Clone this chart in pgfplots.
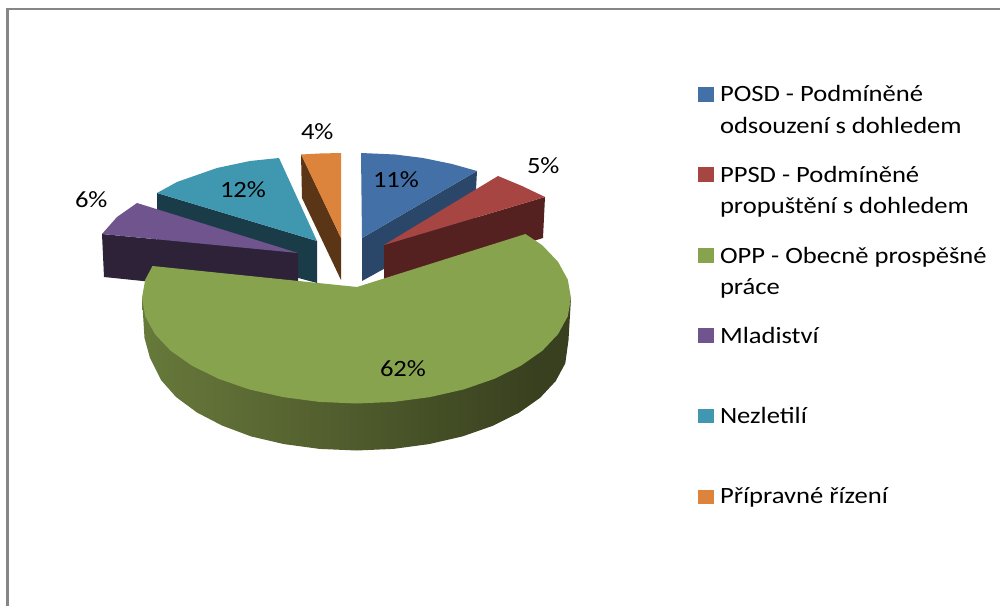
\documentclass[border=0pt]{standalone}
\usepackage{pgfplots}
\pgfplotsset{compat=1.18}
\usepackage{fontspec}
\setmainfont[FakeStretch=1.14]{Carlito}
\definecolor{cblue}{HTML}{4370A6}
\definecolor{cblued}{HTML}{2A4769}
\definecolor{cred}{HTML}{A74543}
\definecolor{credd}{HTML}{552120}
\definecolor{cgreen}{HTML}{88A34D}
\definecolor{cpurple}{HTML}{6F548E}
\definecolor{cpurpled}{HTML}{2D2238}
\definecolor{cteal}{HTML}{3F97B0}
\definecolor{cteald}{HTML}{1A3B48}
\definecolor{corange}{HTML}{DD843C}
\definecolor{corangd}{HTML}{5A3516}
\definecolor{cframe}{HTML}{868686}
\pgfdeclarehorizontalshading{greenside}{100bp}{rgb(0bp)=(0.49,0.58,0.28); rgb(35bp)=(0.37,0.43,0.21); rgb(71bp)=(0.22,0.25,0.12); rgb(100bp)=(0.22,0.25,0.12)}
\tikzset{lab/.style={font=\fontsize{17.5pt}{21pt}\selectfont, inner sep=0pt, outer sep=0pt, anchor=base west, text=black}}
\begin{document}
\begin{tikzpicture}
\begin{axis}[scale only axis, width=750pt, height=454.5pt,
  xmin=0, xmax=1000, ymin=0, ymax=606, y dir=reverse, axis lines=none]
% background and frame
\addplot[draw=none, fill=white] coordinates {(0,0) (1000,0) (1000,606) (0,606)} -- cycle;
\addplot[draw=none, fill=cframe] coordinates {(6,8) (1000,8) (1000,10) (6,10)} -- cycle;
\addplot[draw=none, fill=cframe] coordinates {(6,8) (9,8) (9,606) (6,606)} -- cycle;
% Nezletili 12%
\addplot[draw=none, fill=cteald] coordinates {(157,193) (317,241) (317,283) (157,240)} -- cycle;
\addplot[draw=none, fill=cteal] coordinates {(157,193) (177,182) (217,168) (250,161) (279,158) (317,241)} -- cycle;
% Pripravne rizeni 4%
\addplot[draw=none, fill=corangd] coordinates {(301,154) (341,238) (341,280) (302,198)} -- cycle;
\addplot[draw=none, fill=corange] coordinates {(301,154.5) (320,153.5) (341,153) (341,238)} -- cycle;
% POSD 11%
\addplot[draw=none, fill=cblued] coordinates {(362,238) (477,171) (476,190) (476,218) (362,281)} -- cycle;
\addplot[draw=none, fill=cblue] coordinates {(361,153) (395,154.5) (423,158) (452,164) (477,171) (362,238)} -- cycle;
% Mladistvi 6%
\addplot[draw=none, fill=cpurpled] coordinates {(102,234) (298,253) (298,297) (104,277)} -- cycle;
\addplot[draw=none, fill=cpurple] coordinates {(102,234) (117,217) (137,203) (298,253)} -- cycle;
% PPSD 5%
\addplot[draw=none, fill=credd] coordinates {(384,245) (545,197) (543,238) (384,288)} -- cycle;
\addplot[draw=none, fill=cred] coordinates {(384,245) (498,176) (522,186) (545,197)} -- cycle;
% OPP 62%
\addplot[draw=none, shading=greenside] coordinates {(142,298) (144.5,338) (150,358) (161,380) (176,397) (197,412.5) (222,425.5) (251,436.4) (284,444.1) (319.6,448.9) (356.5,450.5) (393.4,448.9) (429,444.1) (462.5,436.4) (492.8,425.8) (518.9,412.8) (540.1,397.8) (555.7,381.1) (565.3,363.3) (568.5,340) (571,298)} -- cycle;
\addplot[draw=none, fill=cgreen] coordinates {(357,287) (525.5,234) (542.3,245.3) (558.1,261.9) (567.8,279.7) (571,298) (567.8,316.3) (558.1,334.1) (542.3,350.8) (520.8,365.8) (494.4,378.8) (463.8,389.4) (429.9,397.1) (393.8,401.9) (356.5,403.5) (319.2,401.9) (283.1,397.1) (249.2,389.4) (218.6,378.8) (192.2,365.8) (170.7,350.8) (154.9,334.1) (145.2,316.3) (142,298) (145.2,279.7) (152.5,266)} -- cycle;
% data labels
\node[lab] at (axis cs:373,188) {11\%};
\node[lab] at (axis cs:527,173.5) {5\%};
\node[lab] at (axis cs:380,376) {62\%};
\node[lab] at (axis cs:75,208) {6\%};
\node[lab] at (axis cs:220,198) {12\%};
\node[lab] at (axis cs:301,140) {4\%};
% legend
\addplot[draw=none, fill=cblue] coordinates {(698,87) (714,87) (714,102) (698,102)} -- cycle;
\addplot[draw=none, fill=cred] coordinates {(698,167) (714,167) (714,182) (698,182)} -- cycle;
\addplot[draw=none, fill=cgreen] coordinates {(698,248) (714,248) (714,263) (698,263)} -- cycle;
\addplot[draw=none, fill=cpurple] coordinates {(698,328) (714,328) (714,343) (698,343)} -- cycle;
\addplot[draw=none, fill=cteal] coordinates {(698,409) (714,409) (714,423) (698,423)} -- cycle;
\addplot[draw=none, fill=corange] coordinates {(698,490) (714,490) (714,504) (698,504)} -- cycle;
\node[lab] at (axis cs:720,102) {POSD - Podmíněné};
\node[lab] at (axis cs:720,133.5) {odsouzení s dohledem};
\node[lab] at (axis cs:720,182.5) {PPSD - Podmíněné};
\node[lab] at (axis cs:720,213.5) {propuštění s dohledem};
\node[lab] at (axis cs:720,263) {OPP - Obecně prospěšné};
\node[lab] at (axis cs:720,294) {práce};
\node[lab] at (axis cs:720,343.5) {Mladiství};
\node[lab] at (axis cs:720,423.5) {Nezletilí};
\node[lab] at (axis cs:720,503.5) {Přípravné řízení};
\end{axis}
\end{tikzpicture}
\end{document}
